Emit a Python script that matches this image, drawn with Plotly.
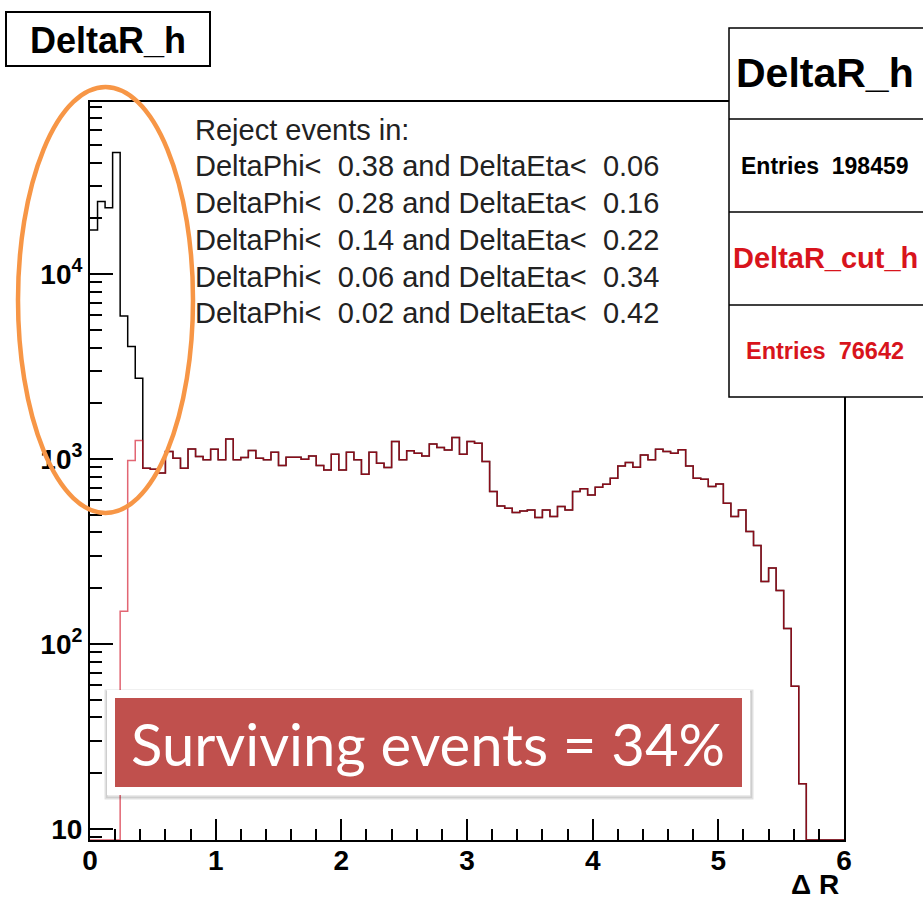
import numpy as np
import plotly.graph_objects as go

# ---------------- data ----------------
x_min, x_max, n_bins = 0.0, 6.0, 100
# DeltaR_cut_h (red) bin contents, 100 bins of 0.06
red_counts = [
    0, 0, 0, 0, 150, 980, 1256, 890, 880, 840,
    1095, 1008, 890, 1132, 1029, 988, 1128, 988, 1282, 988,
    1016, 1109, 1008, 988, 1087, 920, 1021, 1021, 996, 1038,
    920, 872, 1060, 872, 1087, 988, 826, 1087, 948, 898,
    1241, 988, 1105, 1073, 1038, 1205, 1151, 1118, 1304, 1060,
    1241, 1216, 968, 666, 557, 541, 513, 523, 530, 482,
    530, 488, 553, 530, 666, 689, 638, 703, 730, 786,
    916, 955, 901, 1051, 988, 1128, 1096, 1073, 1119, 916,
    786, 776, 708, 732, 576, 488, 530, 405, 340, 217,
    257, 194, 121, 59, 17.5, 0, 0, 0, 0, 0,
]
# DeltaR_h (black): first 7 bins differ, the rest equal the cut histogram
black_first_bins = [17300, 24600, 22800, 45300, 5930, 4045, 2730]
black_counts = black_first_bins + red_counts[len(black_first_bins):]

y_tick_vals = [10, 100, 1000, 10000]
y_tick_text = ["10", "10<sup>2</sup>", "10<sup>3</sup>", "10<sup>4</sup>"]
x_tick_vals = [0, 1, 2, 3, 4, 5, 6]

cut_lines = [
    "Reject events in:",
    "DeltaPhi<  0.38 and DeltaEta<  0.06",
    "DeltaPhi<  0.28 and DeltaEta<  0.16",
    "DeltaPhi<  0.14 and DeltaEta<  0.22",
    "DeltaPhi<  0.06 and DeltaEta<  0.34",
    "DeltaPhi<  0.02 and DeltaEta<  0.42",
]
stats = [("DeltaR_h", "black"), ("Entries  198459", "black"),
         ("DeltaR_cut_h", "#d8141c"), ("Entries  76642", "#d8141c")]
y_min_val, y_max_val = 8.7, 85000

# --------------- figure ---------------
edges = np.linspace(x_min, x_max, n_bins + 1)
floor = y_min_val


def step_xy(counts):
    ys = [c if c > 0 else floor for c in counts]
    return list(edges), ys + [ys[-1]]


fig = go.Figure()
bx, by = step_xy(black_counts)
fig.add_trace(go.Scatter(x=bx, y=by, mode="lines", line_shape="hv",
                         line=dict(color="black", width=1.5), showlegend=False))
rx, ry = step_xy(red_counts)
fig.add_trace(go.Scatter(x=rx, y=ry, mode="lines", line_shape="hv",
                         line=dict(color="rgba(210,20,40,0.65)", width=1.5),
                         showlegend=False))

tick_font = dict(family="Liberation Sans Narrow, Liberation Sans, Arial", size=28,
                 color="black", weight="bold")

minor_y = [k * 10 ** d for d in range(0, 5) for k in range(2, 10)
           if y_min_val <= k * 10 ** d <= y_max_val]

fig.update_xaxes(range=[x_min, x_max], showline=True, linecolor="black", linewidth=2,
                 mirror=True, ticks="inside", ticklen=21, tickwidth=1.5,
                 tickcolor="black", tickvals=x_tick_vals, tickfont=tick_font,
                 ticklabelstandoff=-6,
                 showgrid=False, zeroline=False,
                 minor=dict(ticks="inside", ticklen=11, tickwidth=1.5,
                            tickcolor="black", dtick=0.2, showgrid=False))
fig.update_yaxes(type="log", range=[np.log10(y_min_val), np.log10(y_max_val)],
                 showline=True, linecolor="black", linewidth=2, mirror=True,
                 ticks="inside", ticklen=23, tickwidth=1.5, tickcolor="black",
                 tickvals=y_tick_vals, ticktext=y_tick_text, tickfont=tick_font,
                 showgrid=False, zeroline=False,
                 minor=dict(ticks="inside", ticklen=12, tickwidth=1.5,
                            tickcolor="black", tickvals=minor_y, showgrid=False))

W, H = 923, 922
L, R, T, B = 90, 844, 102, 840


def px(x):
    return (x - L) / (R - L)


def py(y):
    return (B - y) / (B - T)


shapes = []
# title box
shapes.append(dict(type="rect", xref="paper", yref="paper", x0=px(6), x1=px(210),
                   y0=py(66), y1=py(12), line=dict(color="black", width=2),
                   fillcolor="white", layer="above"))
# stats box
shapes.append(dict(type="rect", xref="paper", yref="paper", x0=px(729), x1=px(930),
                   y0=py(397), y1=py(28), line=dict(color="black", width=1.5),
                   fillcolor="white", layer="above"))
for yy in (119, 212, 305):
    shapes.append(dict(type="line", xref="paper", yref="paper", x0=px(729), x1=px(930),
                       y0=py(yy), y1=py(yy), line=dict(color="black", width=1.5),
                       layer="above"))
# orange ellipse
shapes.append(dict(type="circle", xref="paper", yref="paper", x0=px(18), x1=px(193),
                   y0=py(513), y1=py(87), line=dict(color="#F79646", width=4.5),
                   layer="above"))
# highlighted box: shadow, white border, red fill
shapes.append(dict(type="rect", xref="paper", yref="paper", x0=px(106), x1=px(752),
                   y0=py(798), y1=py(691), line=dict(color="rgba(0,0,0,0.12)", width=3),
                   fillcolor="rgba(0,0,0,0.08)", layer="above"))
shapes.append(dict(type="rect", xref="paper", yref="paper", x0=px(107), x1=px(750),
                   y0=py(795), y1=py(690), line=dict(width=0),
                   fillcolor="white", layer="above"))
shapes.append(dict(type="rect", xref="paper", yref="paper", x0=px(115), x1=px(742),
                   y0=py(787), y1=py(698), line=dict(width=0),
                   fillcolor="#C0504D", layer="above"))

ann = []
ann.append(dict(text="DeltaR_h", xref="paper", yref="paper", x=px(108), y=py(40),
                xanchor="center", yanchor="middle", showarrow=False,
                font=dict(family="Liberation Sans", size=36, color="black", weight="bold")))
stat_y = [73, 166, 258, 351]
stat_sizes = [41, 23, 29, 23.5]
for (t, c), yy, s in zip(stats, stat_y, stat_sizes):
    ann.append(dict(text=t.replace("  ", "\u00a0\u00a0"), xref="paper", yref="paper",
                    x=px(825), y=py(yy), xanchor="center", yanchor="middle",
                    showarrow=False,
                    font=dict(family="Liberation Sans", size=s, color=c, weight="bold")))
line_y = [130, 166, 203, 240, 277, 313]
for t, yy in zip(cut_lines, line_y):
    ann.append(dict(text=t.replace("  ", "\u00a0\u00a0"), xref="paper", yref="paper",
                    x=px(193), y=py(yy), xanchor="left", yanchor="middle",
                    showarrow=False,
                    font=dict(family="Liberation Sans", size=29, color="#222222")))
ann.append(dict(text="Surviving events = 34%", xref="paper", yref="paper",
                x=px(428), y=py(743), xanchor="center", yanchor="middle",
                showarrow=False, font=dict(family="Lato", size=58, color="white")))
ann.append(dict(text="\u0394 R", xref="paper", yref="paper", x=px(841), y=py(884),
                xanchor="right", yanchor="middle", showarrow=False, font=tick_font))

fig.update_layout(width=W, height=H, margin=dict(l=L, r=W - R, t=T, b=H - B),
                  plot_bgcolor="white", paper_bgcolor="white",
                  shapes=shapes, annotations=ann, showlegend=False)

fig.write_html("out.html")
